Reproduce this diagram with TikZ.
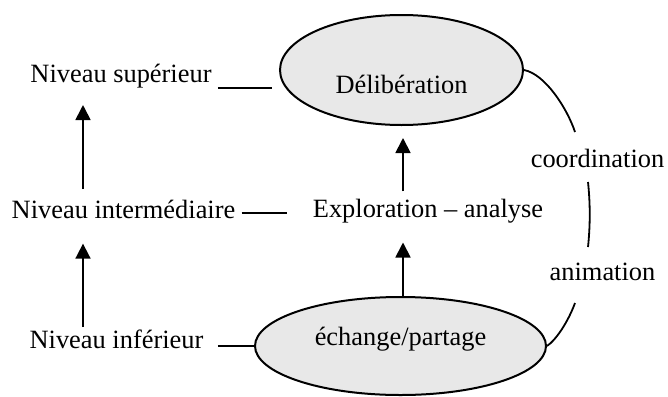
\documentclass[tikz,border=0pt]{standalone}
\usepackage{fontspec}
\setmainfont{Liberation Serif}
\usetikzlibrary{shapes,arrows.meta,positioning,calc}
\definecolor{ovalgray}{RGB}{232,232,232}
\tikzset{
    % Text and oval styles
    level/.style={inner sep=0pt, anchor=base},
    oval/.style={
        ellipse, draw=black, line width=1pt, fill=ovalgray,
        inner sep=0pt
    },
    % Connector styles
    uparrow/.style={
        -{Triangle[width=7.5pt,length=7.5pt]}, line width=0.9pt
    },
    link/.style={line width=0.9pt}
}

\begin{document}
\begin{tikzpicture}[x=0.5pt, y=-0.5pt, font=\fontsize{13.2}{16}\selectfont]
\useasboundingbox (0,0) rectangle (668,396);

% Ovals of the three stages
\node[oval, minimum width=121.5pt, minimum height=55pt, text height=23pt, text depth=0pt] (delib) at (401.5,70) {Délibération};
\node[oval, minimum width=145.5pt, minimum height=49pt, text height=8pt, text depth=9pt] (echange) at (400.5,346) {échange/partage};

% Levels on the left
\node[level] (sup) at (121,82) {Niveau supérieur};
\node[level] (inter) at (123.5,218) {Niveau intermédiaire};
\node[level] (inf) at (116.5,348) {Niveau inférieur};

% Middle stage and side labels
\node[level] (explo) at (428,217) {Exploration – analyse};
\node[level] (coord) at (597.5,167) {coordination};
\node[level] (anim) at (602.5,280) {animation};

% Columns of the arrows
\coordinate (leftx) at (83,0);
\coordinate (midx) at (403,0);

% Upward arrows
\draw[uparrow, shorten <=5pt, shorten >=8.5pt] (inter.north -| leftx) -- (sup.south -| leftx);
\draw[uparrow, shorten <=1pt, shorten >=12.5pt] (inf.north -| leftx) -- (inter.south -| leftx);
\draw[uparrow, shorten <=3.5pt, shorten >=6pt] (explo.north -| midx) -- (delib.south -| midx);
\draw[uparrow, shorten >=9.7pt] (echange.north -| midx) -- (explo.south -| midx);

% Links between levels and stages
\draw[link] ($(sup.base east)+(6,6)$) -- ($(sup.base east -| delib.west)+(-7,6)$);
\draw[link] ($(inter.base east)+(6,-5)$) -- ($(inter.base east -| explo.base west)+(-26,-5)$);
\draw[link] ($(inf.base east)+(14,-2)$) -- (echange.west);

% Curved link on the right
\coordinate (c1) at (575,132);
\coordinate (c2) at (588,182);
\coordinate (c3) at (588,247);
\coordinate (c4) at (575,303);
\draw[link] (delib.east) .. controls (545,74) and (567,108) .. (c1);
\draw[link] (c2) .. controls (590.3,204) and (590.3,225) .. (c3);
\draw[link] (c4) .. controls (568,322) and (556,340) .. (echange.east);

\end{tikzpicture}
\end{document}
